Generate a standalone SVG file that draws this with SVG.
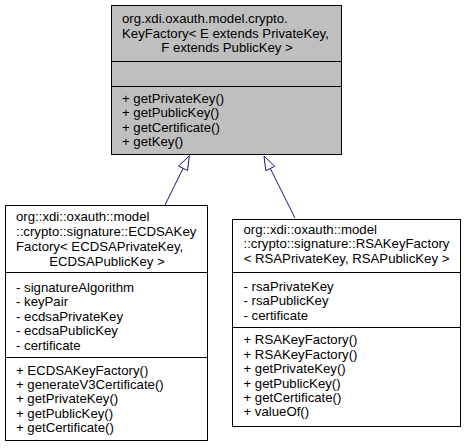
<svg xmlns="http://www.w3.org/2000/svg" width="467" height="448" viewBox="0 0 467 448">
<style>
text{font-family:"Liberation Sans",Arial,sans-serif;font-size:13.2px;fill:#000}
.c{text-anchor:middle}
.box{stroke:#000;stroke-width:1}
.sep{stroke:#000;stroke-width:1;fill:none}
.edge{stroke:#191970;stroke-width:1;fill:none}
.head{stroke:#191970;stroke-width:1;fill:#fff}
</style>
<rect width="467" height="448" fill="#fff"/>
<g id="edges">
<path class="edge" d="M165,205 L183.1,168.3"/>
<polygon class="head" points="189.3,155.7 187.6,170.5 178.6,166.1"/>
<path class="edge" d="M295,218 L270.3,168.5"/>
<polygon class="head" points="264,156 274.8,166.3 265.8,170.7"/>
</g>
<g id="KeyFactory">
<rect class="box" x="111.5" y="5.5" width="230" height="149" fill="#bfbfbf"/>
<line class="sep" x1="111.5" y1="61.5" x2="341.5" y2="61.5"/>
<line class="sep" x1="111.5" y1="86.5" x2="341.5" y2="86.5"/>
<text x="122" y="22.8">org.xdi.oxauth.model.crypto.</text>
<text x="122" y="37.5">KeyFactory&lt; E extends PrivateKey,</text>
<text class="c" x="227" y="51.5">F extends PublicKey &gt;</text>
<text x="122" y="102.5">+ getPrivateKey()</text>
<text x="122" y="117">+ getPublicKey()</text>
<text x="122" y="131.5">+ getCertificate()</text>
<text x="122" y="146">+ getKey()</text>
</g>
<g id="ECDSAKeyFactory">
<rect class="box" x="5.5" y="205.5" width="202" height="235" fill="#fff"/>
<line class="sep" x1="5.5" y1="272.5" x2="207.5" y2="272.5"/>
<line class="sep" x1="5.5" y1="357.5" x2="207.5" y2="357.5"/>
<text x="16" y="221">org::xdi::oxauth::model</text>
<text x="16" y="236">::crypto::signature::ECDSAKey</text>
<text x="16" y="251">Factory&lt; ECDSAPrivateKey,</text>
<text class="c" x="107" y="266">ECDSAPublicKey &gt;</text>
<text x="16" y="291.5">- signatureAlgorithm</text>
<text x="16" y="306">- keyPair</text>
<text x="16" y="320.5">- ecdsaPrivateKey</text>
<text x="16" y="335">- ecdsaPublicKey</text>
<text x="16" y="349.5">- certificate</text>
<text x="16" y="375">+ ECDSAKeyFactory()</text>
<text x="16" y="389">+ generateV3Certificate()</text>
<text x="16" y="403">+ getPrivateKey()</text>
<text x="16" y="417.5">+ getPublicKey()</text>
<text x="16" y="431.5">+ getCertificate()</text>
</g>
<g id="RSAKeyFactory">
<rect class="box" x="232.5" y="219.5" width="228" height="207" fill="#fff"/>
<line class="sep" x1="232.5" y1="272.5" x2="460.5" y2="272.5"/>
<line class="sep" x1="232.5" y1="327.5" x2="460.5" y2="327.5"/>
<text x="243.5" y="233.5">org::xdi::oxauth::model</text>
<text x="243.5" y="248">::crypto::signature::RSAKeyFactory</text>
<text class="c" x="346.5" y="262.5">&lt; RSAPrivateKey, RSAPublicKey &gt;</text>
<text x="243.5" y="290.5">- rsaPrivateKey</text>
<text x="243.5" y="305">- rsaPublicKey</text>
<text x="243.5" y="319.5">- certificate</text>
<text x="243.5" y="344">+ RSAKeyFactory()</text>
<text x="243.5" y="358.5">+ RSAKeyFactory()</text>
<text x="243.5" y="373">+ getPrivateKey()</text>
<text x="243.5" y="387.5">+ getPublicKey()</text>
<text x="243.5" y="402">+ getCertificate()</text>
<text x="243.5" y="416">+ valueOf()</text>
</g>
</svg>
